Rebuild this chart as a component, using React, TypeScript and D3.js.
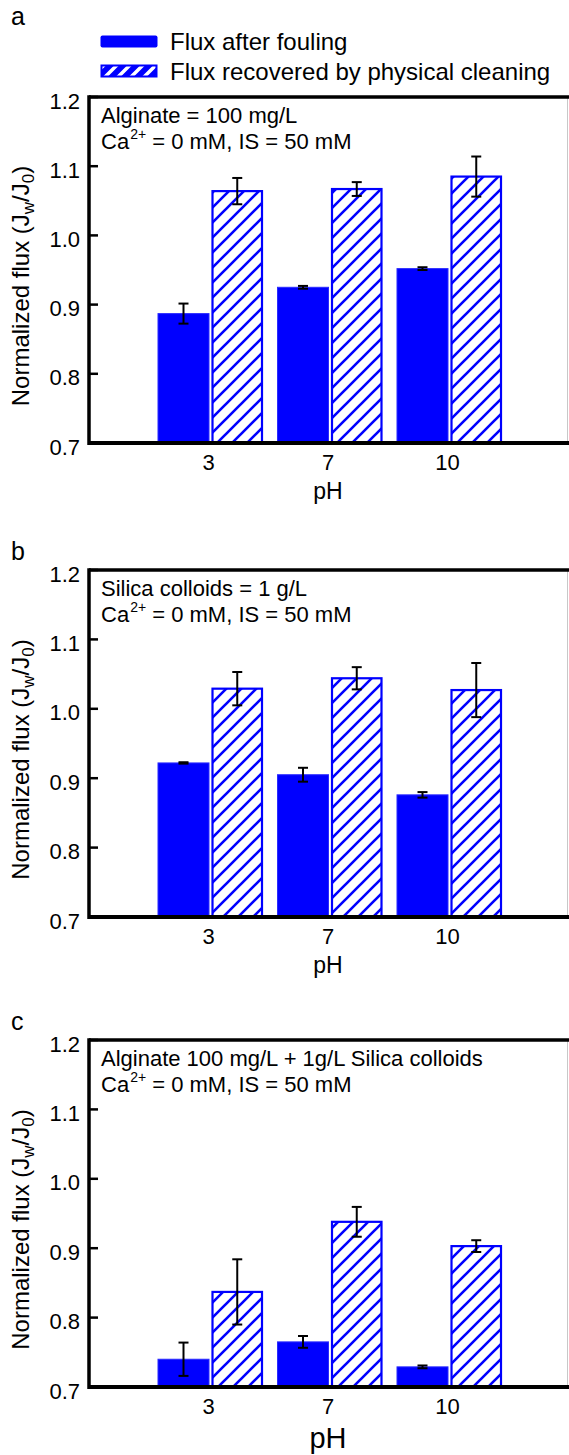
import React from "react";
import * as d3 from "d3";

const categories = ["3", "7", "10"];
const yTicks = [0.7, 0.8, 0.9, 1.0, 1.1, 1.2];
const seriesNames = ["Flux after fouling", "Flux recovered by physical cleaning"];

const panelLabels = ["a", "b", "c"];
const panelNotes = ["Alginate = 100 mg/L", "Silica colloids = 1 g/L", "Alginate 100 mg/L + 1g/L Silica colloids"];

const foulingA = [0.887, 0.925, 0.952];
const foulingErrA = [0.0145, 0.002, 0.002];
const cleaningA = [1.064, 1.067, 1.085];
const cleaningErrA = [0.019, 0.010, 0.029];

const foulingB = [0.922, 0.905, 0.876];
const foulingErrB = [0.001, 0.010, 0.004];
const cleaningB = [1.029, 1.044, 1.027];
const cleaningErrB = [0.024, 0.016, 0.039];

const foulingC = [0.740, 0.765, 0.729];
const foulingErrC = [0.024, 0.0085, 0.002];
const cleaningC = [0.837, 0.938, 0.903];
const cleaningErrC = [0.047, 0.0215, 0.0085];

const panels = [
  { fouling: foulingA, fErr: foulingErrA, cleaning: cleaningA, cErr: cleaningErrA },
  { fouling: foulingB, fErr: foulingErrB, cleaning: cleaningB, cErr: cleaningErrB },
  { fouling: foulingC, fErr: foulingErrC, cleaning: cleaningC, cErr: cleaningErrC },
];

const W = 569;
const H = 1455;
const FONT = "'Liberation Sans', Arial, Helvetica, sans-serif";
const BLUE = "#0000ff";
const LEFT = 89;
const RIGHT = 567;
const TOPS = [97, 570, 1040];
const BOTTOMS = [443, 917, 1387];

const x = d3.scaleLinear().domain([0, categories.length + 1]).range([LEFT, RIGHT]);

function ErrorBar({ cx, y, v, e }: { cx: number; y: d3.ScaleLinear<number, number>; v: number; e: number }) {
  const y1 = y(v - e);
  const y2 = y(v + e);
  return (
    <g stroke="#000" strokeWidth={2} fill="none">
      <line x1={cx} x2={cx} y1={y1} y2={y2} />
      <line x1={cx - 5} x2={cx + 5} y1={y1} y2={y1} />
      <line x1={cx - 5} x2={cx + 5} y1={y2} y2={y2} />
    </g>
  );
}

function Panel({ idx }: { idx: number }) {
  const top = TOPS[idx];
  const bottom = BOTTOMS[idx];
  const y = d3.scaleLinear().domain([0.7, 1.2]).range([bottom, top]);
  const p = panels[idx];
  const isLast = idx === 2;
  return (
    <g>
      <text x={11} y={top - (idx === 0 ? 72 : 10)} fontSize={25} fontFamily={FONT}>{panelLabels[idx]}</text>
      {categories.map((c, i) => {
        const cx = x(i + 1) + 1.5;
        const fx0 = cx - 52;
        const fx1 = cx - 1;
        const hx0 = cx + 2.5;
        const hx1 = cx + 52;
        const fv = p.fouling[i];
        const hv = p.cleaning[i];
        return (
          <g key={c}>
            <rect x={fx0} y={y(fv)} width={fx1 - fx0} height={bottom - y(fv)} fill={BLUE} stroke="#2a2aff" strokeWidth={1} />
            <rect x={hx0} y={y(hv)} width={hx1 - hx0} height={bottom - y(hv)} fill="url(#hatch)" stroke={BLUE} strokeWidth={2.2} />
            <ErrorBar cx={(fx0 + fx1) / 2} y={y} v={fv} e={p.fErr[i]} />
            <ErrorBar cx={(hx0 + hx1) / 2} y={y} v={hv} e={p.cErr[i]} />
          </g>
        );
      })}
      <line x1={RIGHT + 0.5} x2={RIGHT + 0.5} y1={top} y2={bottom} stroke="#c8c8c8" strokeWidth={1} />
      <line x1={LEFT} x2={W} y1={top} y2={top} stroke="#000" strokeWidth={3.5} />
      <line x1={LEFT} x2={W} y1={bottom} y2={bottom} stroke="#000" strokeWidth={4} />
      <line x1={LEFT} x2={LEFT} y1={top - 1.75} y2={bottom + 2} stroke="#000" strokeWidth={3.5} />
      {yTicks.map((t) => (
        <g key={t}>
          <line x1={LEFT} x2={LEFT + 9} y1={y(t)} y2={y(t)} stroke="#000" strokeWidth={2.5} />
          <text x={LEFT - 9} y={y(t) + 11.5} textAnchor="end" fontSize={22} fontFamily={FONT}>{t.toFixed(1)}</text>
        </g>
      ))}
      {categories.map((c, i) => (
        <text key={c} x={x(i + 1)} y={bottom + 27} textAnchor="middle" fontSize={22} fontFamily={FONT}>{c}</text>
      ))}
      <text x={x(2)} y={isLast ? bottom + 61 : bottom + 56} textAnchor="middle" fontSize={isLast ? 29 : 23} fontFamily={FONT}>pH</text>
      <text
        transform={`translate(${29},${(top + bottom) / 2 + 16}) rotate(-90)`}
        textAnchor="middle"
        fontSize={24}
        fontFamily={FONT}
      >
        Normalized flux (J<tspan fontSize={17} dy={5}>w</tspan><tspan dy={-5}>/J</tspan><tspan fontSize={17} dy={5}>0</tspan><tspan dy={-5}>)</tspan>
      </text>
      <text x={LEFT + 12} y={top + 26} fontSize={22} fontFamily={FONT}>{panelNotes[idx]}</text>
      <text x={LEFT + 12} y={top + 52} fontSize={22} fontFamily={FONT}>
        Ca<tspan fontSize={14} dy={-10} dx={1}>2+</tspan><tspan dy={10}> = 0 mM, IS = 50 mM</tspan>
      </text>
    </g>
  );
}

export default function App() {
  return (
    <svg width={W} height={H} style={{ position: "absolute", left: 0, top: 0, background: "#fff" }}>
      <defs>
        <pattern id="hatch" patternUnits="userSpaceOnUse" width={15} height={15}>
          <rect width={15} height={15} fill="#fff" />
          <path d="M-3.75,3.75 L3.75,-3.75 M0,15 L15,0 M11.25,18.75 L18.75,11.25" stroke={BLUE} strokeWidth={2.6} />
        </pattern>
        <pattern id="hatchLegend" patternUnits="userSpaceOnUse" width={13} height={13}>
          <rect width={13} height={13} fill={BLUE} />
          <path d="M-3.25,3.25 L3.25,-3.25 M0,13 L13,0 M9.75,16.25 L16.25,9.75" stroke="#fff" strokeWidth={3.5} />
        </pattern>
      </defs>
      <rect width={W} height={H} fill="#fff" />
      <rect x={100.5} y={35.5} width={57} height={12} rx={2} fill={BLUE} />
      <text x={170} y={50} fontSize={24} fontFamily={FONT}>{seriesNames[0]}</text>
      <rect x={101.5} y={65.5} width={55} height={11} fill="url(#hatchLegend)" stroke={BLUE} strokeWidth={2} />
      <text x={170} y={80} fontSize={24} fontFamily={FONT}>{seriesNames[1]}</text>
      {[0, 1, 2].map((i) => (
        <Panel key={i} idx={i} />
      ))}
    </svg>
  );
}
